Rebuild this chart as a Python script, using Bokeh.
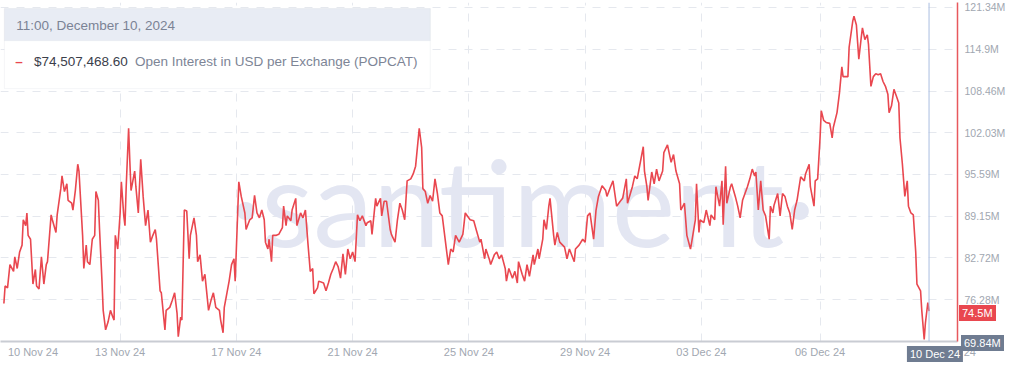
from bokeh.plotting import figure
from bokeh.layouts import column
from bokeh.models import Range1d, FixedTicker, Span, Label, BoxAnnotation, Div
from bokeh.embed import file_html
from bokeh.resources import INLINE

# Hours since 10 Nov 2024 00:00 (hourly samples)
hours = [-24, -23, -21, -19, -16, -15, -13, -11, -9, -8, -6, -5, -4, -2, -1, 0, 2, 3, 5, 7,
         9, 11, 12, 15, 16, 19, 20, 23, 24, 26, 28, 29, 32, 33, 35, 37, 38, 41, 42, 44,
         45, 47, 49, 51, 52, 54, 55, 57, 58, 60, 62, 64, 66, 67, 68, 70, 72, 73, 75, 76,
         77, 79, 80, 81, 84, 85, 87, 89, 91, 93, 95, 97, 99, 101, 102, 105, 106, 109, 110, 113,
         115, 117, 119, 120, 122, 123, 125, 127, 129, 130, 133, 135, 136, 138, 140, 142, 145, 147, 149, 151,
         154, 155, 157, 158, 162, 164, 166, 167, 170, 172, 175, 176, 179, 181, 183, 185, 187, 189, 191, 192,
         194, 195, 197, 198, 201, 203, 206, 207, 209, 210, 213, 214, 217, 218, 221, 223, 225, 227, 229, 231,
         232, 235, 236, 240, 242, 244, 246, 248, 250, 252, 254, 256, 258, 260, 262, 264, 266, 268, 270, 272,
         275, 276, 279, 280, 283, 284, 287, 288, 290, 292, 295, 296, 299, 301, 303, 305, 307, 309, 312, 314,
         316, 319, 321, 322, 324, 326, 328, 330, 332, 334, 336, 338, 340, 343, 345, 347, 349, 352, 355, 357,
         361, 364, 366, 369, 370, 373, 374, 377, 378, 381, 383, 385, 387, 390, 391, 393, 396, 398, 400, 401,
         404, 406, 408, 410, 413, 414, 417, 418, 421, 422, 424, 426, 427, 430, 431, 433, 435, 439, 441, 443,
         447, 448, 451, 454, 456, 458, 460, 463, 465, 467, 470, 473, 474, 477, 479, 482, 485, 487, 490, 491,
         495, 497, 499, 504, 505, 507, 508, 511, 513, 515, 517, 520, 521, 524, 527, 529, 531, 534, 535, 538,
         540, 543, 544, 547, 548, 550, 551, 554, 556, 559, 560, 563, 564, 567, 569, 570, 572, 573, 576, 577,
         580, 582, 584, 586, 588, 590, 592, 594, 596, 597, 599, 601, 603, 605, 608, 609, 611, 612, 615, 617,
         619, 621, 623, 625, 627, 629, 631, 634, 637, 638, 641, 642, 645, 646, 648, 650, 651, 653, 655, 658,
         660, 661, 664, 666, 668, 669, 671, 673, 674, 677, 678, 680, 682, 684, 685, 687, 689, 690, 692, 694,
         696, 698, 700, 702, 704, 706, 707, 709, 711, 713, 715, 716, 718, 720, 722, 723, 725, 727, 729, 730,
         733, 734, 736, 737, 739, 740]

# Open interest in USD, millions
oi_musd = [75.70, 78.40, 78.10, 81.70, 80.65, 82.90, 81.10, 83.65, 84.70, 88.61, 87.71, 89.66, 86.21, 85.61, 82.15, 78.70, 80.95, 78.40, 77.95, 82.90,
           78.70, 81.70, 82.15, 89.36, 88.61, 86.66, 89.36, 93.41, 95.37, 92.96, 94.16, 91.61, 91.16, 90.11, 93.11, 97.17, 96.12, 86.21, 81.10, 84.70,
           82.15, 81.70, 85.61, 86.21, 92.96, 91.61, 87.11, 79.15, 74.64, 71.64, 72.84, 74.64, 73.59, 73.14, 86.21, 84.10, 89.66, 94.46, 89.21, 87.71,
           93.71, 102.72, 97.62, 93.11, 96.12, 93.71, 89.66, 97.92, 92.21, 87.71, 90.11, 85.16, 86.21, 87.11, 85.61, 77.65, 77.35, 71.64, 74.64, 75.10,
           76.15, 77.35, 74.19, 70.59, 73.59, 73.14, 90.11, 89.96, 82.60, 86.21, 88.91, 86.21, 82.15, 83.20, 79.15, 80.20, 74.64, 76.15, 77.35, 75.10,
           74.64, 73.14, 71.19, 75.10, 79.15, 81.70, 82.60, 79.15, 94.46, 92.21, 89.66, 87.11, 88.61, 88.91, 92.36, 89.66, 88.91, 90.11, 88.61, 85.16,
           84.10, 85.61, 82.15, 86.21, 86.21, 86.36, 87.41, 90.71, 87.71, 89.21, 88.46, 90.11, 91.91, 87.71, 89.66, 88.91, 90.11, 85.16, 80.65, 81.10,
           77.20, 78.10, 79.15, 78.85, 77.65, 78.85, 80.20, 81.10, 82.15, 81.40, 79.60, 83.35, 80.20, 84.10, 82.60, 83.65, 82.15, 89.36, 88.46, 89.21,
           87.71, 88.16, 88.46, 86.36, 91.91, 90.71, 91.91, 89.21, 91.46, 91.46, 87.11, 86.36, 85.16, 88.61, 91.16, 90.11, 88.61, 94.61, 94.92, 95.67,
           96.87, 102.72, 99.72, 93.41, 92.96, 91.16, 92.36, 91.46, 94.92, 92.66, 89.66, 89.21, 86.21, 81.70, 84.10, 83.65, 86.21, 85.16, 86.36, 89.66,
           88.61, 88.46, 87.11, 85.16, 85.61, 82.60, 84.10, 82.45, 81.70, 83.20, 83.65, 82.60, 83.20, 81.10, 79.15, 81.10, 79.60, 80.65, 78.85, 82.15,
           80.20, 79.15, 81.70, 79.90, 83.20, 81.70, 84.10, 82.60, 85.61, 88.61, 87.11, 90.71, 91.91, 86.21, 84.70, 86.66, 85.16, 84.40, 82.60, 84.10,
           82.15, 84.10, 84.70, 85.61, 85.16, 89.21, 89.66, 85.61, 90.11, 92.21, 93.86, 93.11, 92.21, 93.71, 94.61, 90.71, 91.46, 91.91, 94.92, 91.16,
           93.71, 95.37, 94.92, 99.87, 96.12, 93.71, 91.61, 95.97, 94.16, 96.42, 94.61, 96.12, 98.97, 100.17, 97.47, 98.67, 96.12, 94.16, 90.11, 91.16,
           86.21, 84.10, 85.16, 88.61, 94.16, 86.66, 88.61, 88.16, 90.11, 87.71, 89.36, 88.61, 93.71, 90.71, 94.61, 87.86, 96.87, 91.16, 93.71, 94.16,
           92.21, 90.71, 88.91, 91.61, 92.66, 93.71, 94.92, 96.42, 95.37, 95.97, 90.11, 94.61, 90.11, 89.21, 85.61, 90.71, 89.66, 90.86, 92.66, 89.21,
           92.66, 92.21, 90.71, 89.66, 87.11, 90.11, 91.61, 95.22, 94.61, 95.67, 97.17, 93.71, 90.71, 94.61, 94.92, 101.22, 105.43, 103.92, 103.62, 103.47,
           101.22, 102.87, 105.13, 108.13, 112.18, 110.68, 110.68, 110.68, 115.19, 119.24, 119.99, 118.64, 113.38, 116.69, 118.19, 116.39, 117.14, 115.64, 109.18, 110.68,
           111.13, 110.98, 111.13, 109.93, 109.18, 107.98, 105.13, 106.18, 108.73, 107.68, 106.63, 101.22, 97.17, 92.21, 94.61, 90.71, 89.66, 89.36, 83.65, 78.70,
           77.65, 74.64, 70.14, 72.69, 75.85, 74.51]

x_tick_hours = [0, 72, 168, 264, 360, 456, 552, 650, 758]
x_tick_labels = ["10 Nov 24", "13 Nov 24", "17 Nov 24", "21 Nov 24", "25 Nov 24",
                 "29 Nov 24", "03 Dec 24", "06 Dec 24", "10 Dec 24"]
y_ticks = [69.84, 76.28, 82.72, 89.15, 95.59, 102.03, 108.46, 114.9, 121.34]
y_tick_labels = ["69.84M", "76.28M", "82.72M", "89.15M", "95.59M",
                 "102.03M", "108.46M", "114.9M", "121.34M"]

tooltip_time = "11:00, December 10, 2024"
tooltip_value = "$74,507,468.60"
series_name = "Open Interest in USD per Exchange (POPCAT)"
last_label = "74.5M"
cursor_date = "10 Dec 24"
cursor_y_label = "69.84M"

FONT = "Liberation Sans"
LINE_RED = "#e9474f"
SLATE = "#6f7c91"
GRID = "#e5e8ee"
LABEL_GRAY = "#a1a7b1"

W, H = 1008, 360
X0, X1 = -26.8, 763.5
Y0, Y1 = 69.84, 122.11

p = figure(width=W, height=H, output_backend="svg", toolbar_location=None,
           x_range=Range1d(X0, X1), y_range=Range1d(Y0, Y1),
           y_axis_location="right",
           min_border_left=0, min_border_right=0, min_border_top=2, min_border_bottom=0)
p.outline_line_color = None
p.background_fill_color = "white"
p.border_fill_color = "white"

for ax in (p.xaxis, p.yaxis):
    ax.major_tick_line_color = None
    ax.minor_tick_line_color = None
    ax.major_tick_out = 0
    ax.minor_tick_out = 0
    ax.major_label_text_color = LABEL_GRAY
    ax.major_label_text_font = FONT

# X axis
p.xaxis.ticker = FixedTicker(ticks=x_tick_hours)
p.xaxis.major_label_overrides = {t: l for t, l in zip(x_tick_hours, x_tick_labels)}
p.xaxis.axis_line_color = "#c9ccd3"
p.xaxis.axis_line_width = 2
p.xaxis.major_label_text_font_size = "11px"
p.xaxis.major_label_standoff = 4

# Y axis (right)
p.yaxis.ticker = FixedTicker(ticks=y_ticks)
p.yaxis.major_label_overrides = {t: l for t, l in zip(y_ticks, y_tick_labels)}
p.yaxis.axis_line_color = "#e8585d"
p.yaxis.axis_line_width = 1.5
p.yaxis.major_label_text_font_size = "10.5px"
p.yaxis.major_label_standoff = 7

# Grids
p.ygrid.ticker = FixedTicker(ticks=y_ticks[1:])
p.xgrid.ticker = FixedTicker(ticks=x_tick_hours[1:8])
for g in (p.xgrid, p.ygrid):
    g.grid_line_color = GRID
    g.grid_line_dash = "8 8"
    g.grid_line_width = 1

# Watermark
p.add_layout(Label(x=404.5, y=91.45, text="·santiment·", text_align="center",
                   text_baseline="alphabetic", text_font="Lato", text_font_size="120px",
                   text_color="#e3e6f2", level="underlay"))

# Data line
p.line(hours, oi_musd, line_color=LINE_RED, line_width=1.6)

# Crosshair
p.add_layout(Span(location=hours[-1], dimension="height", line_color="#a9bde0", line_width=1))

# Tooltip box
p.add_layout(BoxAnnotation(left=-23.55, right=328.1, top=121.17, bottom=108.83,
                           fill_color="white", fill_alpha=1.0, line_color="#dde1e8", line_width=1))
p.add_layout(BoxAnnotation(left=-23.55, right=328.1, top=121.17, bottom=116.22,
                           fill_color="#e8ecf4", fill_alpha=1.0, line_color="#dde1e8", line_width=1))
p.add_layout(Label(x=-13.8, y=118.55, text=tooltip_time, text_baseline="middle",
                   text_font=FONT, text_font_size="13.5px", text_color="#7b8395", level="overlay"))
p.add_layout(Label(x=-14.6, y=113.06, text="–", text_baseline="middle", text_font_style="bold",
                   text_font=FONT, text_font_size="13.5px", text_color=LINE_RED, level="overlay"))
p.add_layout(Label(x=0.8, y=113.06, text=tooltip_value, text_baseline="middle",
                   text_font=FONT, text_font_size="13.5px", text_color="#3b404b", level="overlay"))
p.add_layout(Label(x=0.8, y=113.06, x_offset=101, text=series_name, text_baseline="middle",
                   text_font=FONT, text_font_size="13.5px", text_color="#7d8596", level="overlay"))

# Highlight chips that sit over the axes (outside the plot frame) -> HTML overlay.
# Overlay box coordinates, calibrated against the rendered frame.
OV_L, OV_R, OV_T, OV_B = 0, 959, 2, 343
def sx(h):
    return OV_L + (h - X0) / (X1 - X0) * (OV_R - OV_L)
def sy(v):
    return OV_T + (Y1 - v) / (Y1 - Y0) * (OV_B - OV_T)

def chip(left, top, text, bg, center=False):
    tx = "transform:translateX(-50%);" if center else ""
    return (f'<span style="position:absolute;left:{left:.0f}px;top:{top:.0f}px;{tx}'
            f'height:16px;line-height:16px;padding:0 3px;background:{bg};color:#fff;'
            f'font-family:\'Liberation Sans\',Arial,sans-serif;font-size:11px;white-space:nowrap;">{text}</span>')

chips = (chip(954, sy(oi_musd[-1]) - 8, last_label, LINE_RED)
         + chip(956, sy(Y0) - 8, cursor_y_label, SLATE)
         + chip(sx(hours[-1]), OV_B + 3, cursor_date, SLATE, center=True))
overlay = Div(text=f'<div style="position:relative;width:{W}px;height:{H}px;">{chips}</div>',
              width=W, height=H, styles={"margin-top": f"-{H}px", "pointer-events": "none"})

layout = column(p, overlay, spacing=0)
open("out.html", "w").write(file_html(layout, INLINE))
